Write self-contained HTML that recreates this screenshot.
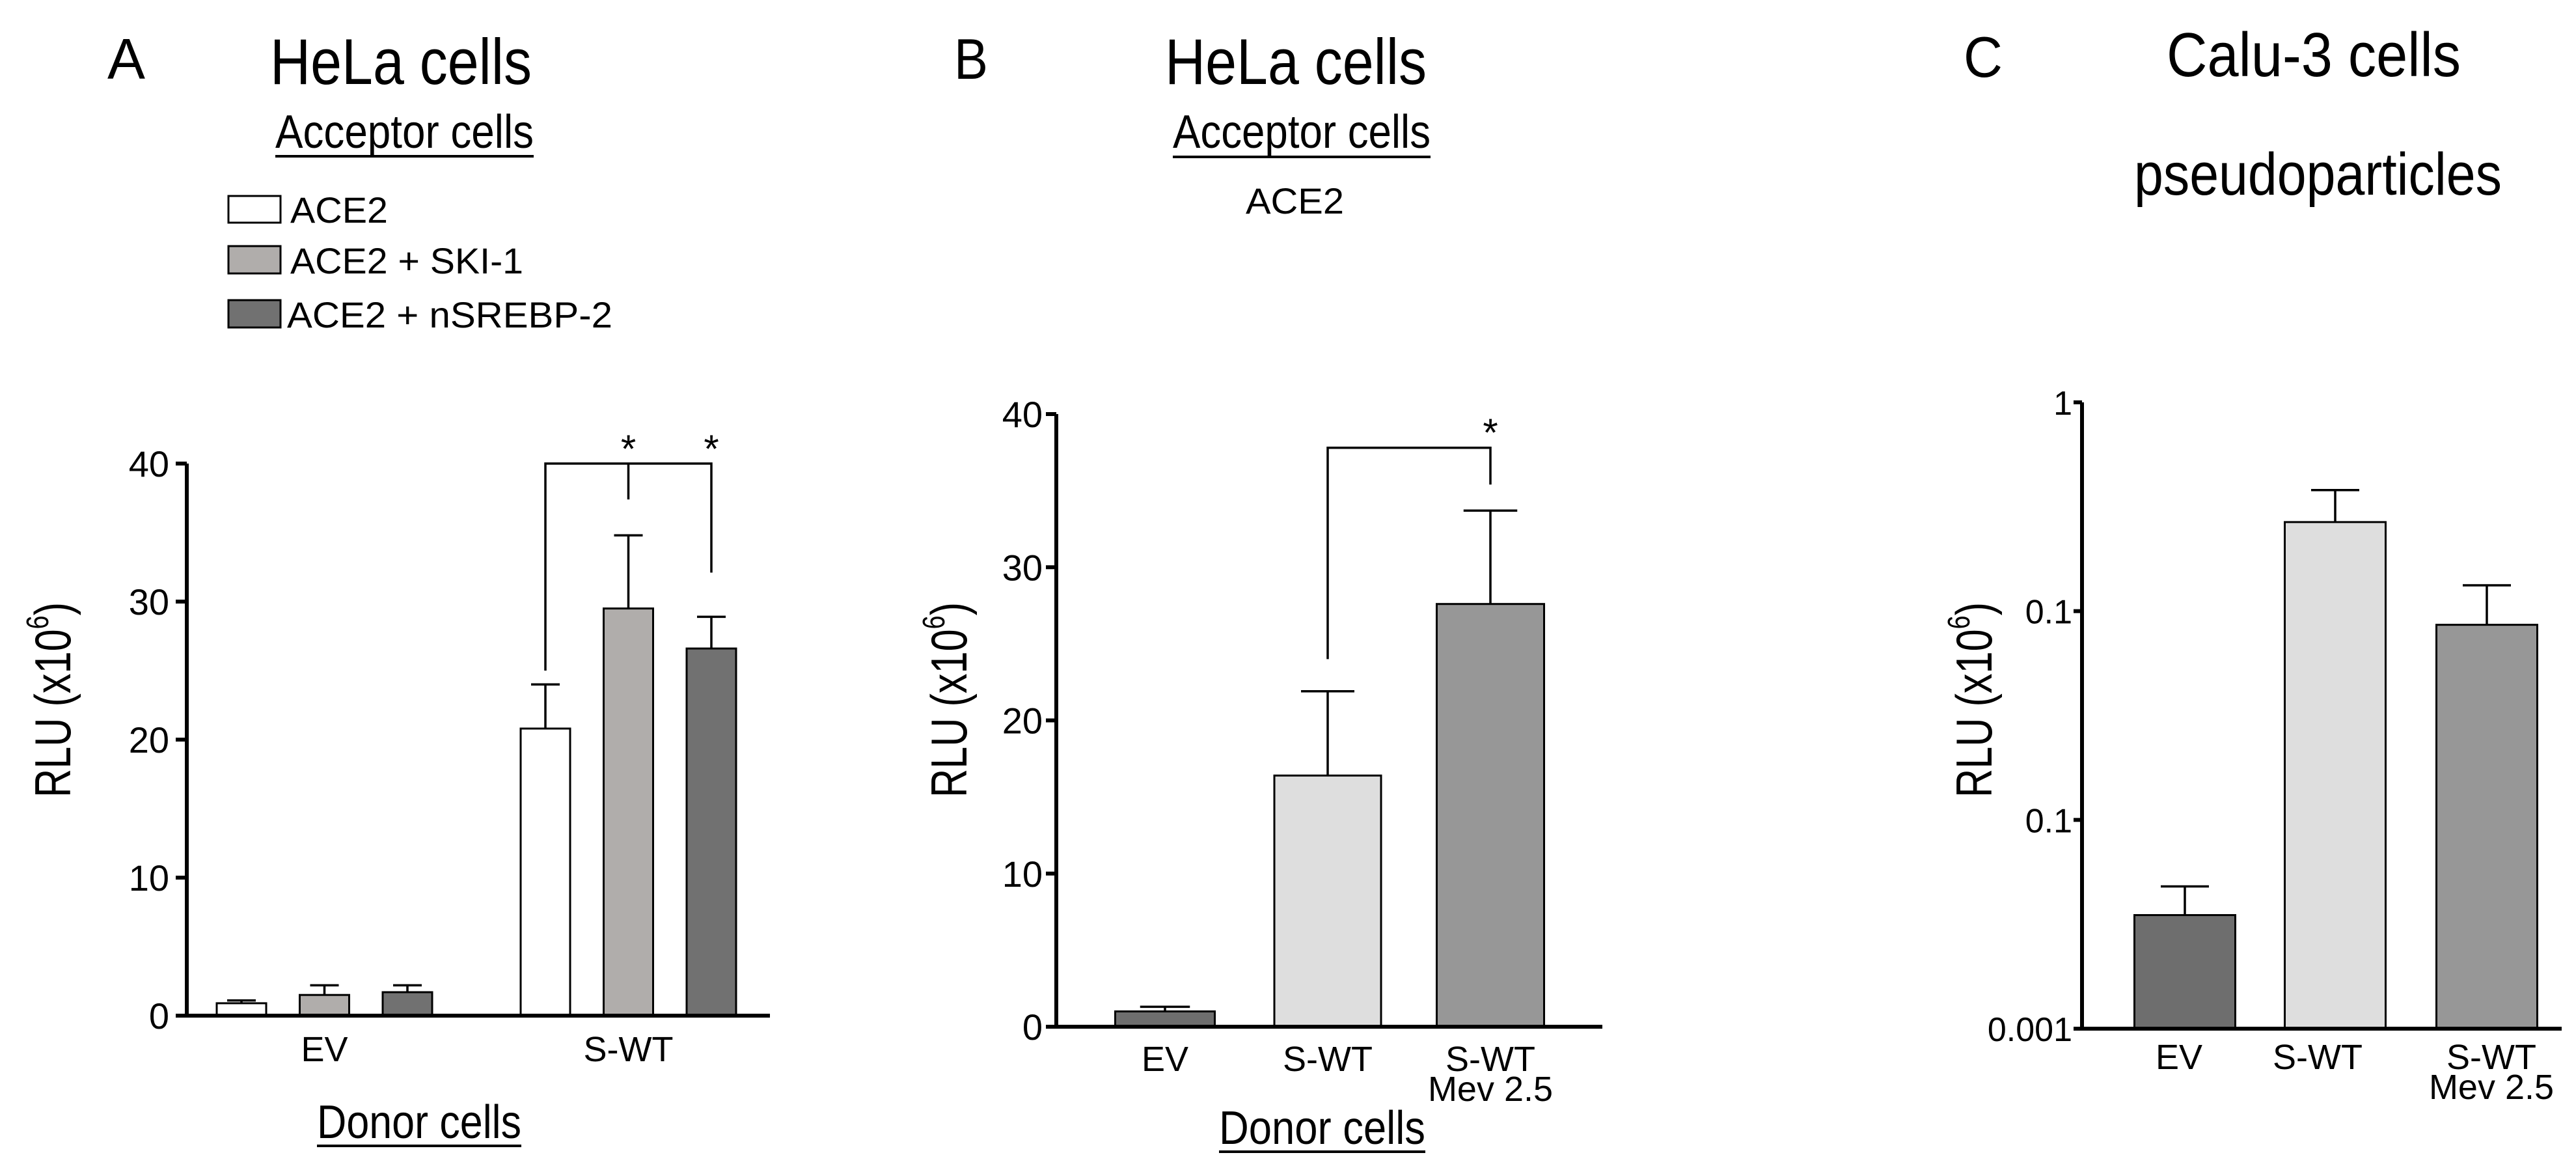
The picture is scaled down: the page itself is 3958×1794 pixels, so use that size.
<!DOCTYPE html>
<html><head><meta charset="utf-8"><style>
html,body{margin:0;padding:0;background:#fff}
svg{display:block}
text{font-family:"Liberation Sans",Arial,sans-serif;fill:#000}
</style></head><body>
<svg id="fig" xmlns="http://www.w3.org/2000/svg" width="3958" height="1794" viewBox="0 0 3958 1794">
<rect width="3958" height="1794" fill="#fff"/>
<!-- Panel A static text -->
<g>
<text x="165" y="121" font-size="88" textLength="58" lengthAdjust="spacingAndGlyphs">A</text>
<text x="415" y="129" font-size="99" textLength="402" lengthAdjust="spacingAndGlyphs">HeLa cells</text>
<text x="423" y="227" font-size="72" textLength="397" lengthAdjust="spacingAndGlyphs">Acceptor cells</text>
<rect x="423" y="238" width="397" height="4" fill="#000"/>
<rect x="351" y="301" width="80" height="41" fill="#fff" stroke="#000" stroke-width="3"/>
<rect x="351" y="378" width="80" height="42" fill="#b0adab" stroke="#000" stroke-width="3"/>
<rect x="351" y="461" width="80" height="42" fill="#717171" stroke="#000" stroke-width="3"/>
<text x="446" y="342" font-size="56" textLength="150" lengthAdjust="spacingAndGlyphs">ACE2</text>
<text x="446" y="420" font-size="56" textLength="358" lengthAdjust="spacingAndGlyphs">ACE2 + SKI-1</text>
<text x="441" y="503" font-size="56" textLength="500" lengthAdjust="spacingAndGlyphs">ACE2 + nSREBP-2</text>
<text x="487" y="1748" font-size="72" textLength="314" lengthAdjust="spacingAndGlyphs">Donor cells</text>
<rect x="487" y="1758" width="314" height="4" fill="#000"/>
</g>
<!-- Panel B static text -->
<g>
<text x="1466" y="121" font-size="88" textLength="52" lengthAdjust="spacingAndGlyphs">B</text>
<text x="1790" y="129" font-size="99" textLength="402" lengthAdjust="spacingAndGlyphs">HeLa cells</text>
<text x="1802" y="227" font-size="72" textLength="396" lengthAdjust="spacingAndGlyphs">Acceptor cells</text>
<rect x="1802" y="239" width="396" height="4" fill="#000"/>
<text x="1914" y="328" font-size="56" textLength="151" lengthAdjust="spacingAndGlyphs">ACE2</text>
<text x="1873" y="1757" font-size="72" textLength="317" lengthAdjust="spacingAndGlyphs">Donor cells</text>
<rect x="1873" y="1767" width="317" height="4" fill="#000"/>
</g>
<!-- Panel C static text -->
<g>
<text x="3017" y="118" font-size="88" textLength="60" lengthAdjust="spacingAndGlyphs">C</text>
<text x="3329" y="117" font-size="96" textLength="452" lengthAdjust="spacingAndGlyphs">Calu-3 cells</text>
<text x="3279" y="299" font-size="92" textLength="565" lengthAdjust="spacingAndGlyphs">pseudoparticles</text>
</g>
<g id="charts"></g>
</svg>
<script>
// ---------- Panel A data ----------
const aCategories = ["EV", "S-WT"];
const aSeriesNames = ["ACE2", "ACE2 + SKI-1", "ACE2 + nSREBP-2"];
const aAce2 = [0.9, 20.8];
const aAce2Err = [1.1, 24.0];
const aSki1 = [1.5, 29.5];
const aSki1Err = [2.2, 34.8];
const aNsrebp2 = [1.7, 26.6];
const aNsrebp2Err = [2.2, 28.9];
const aTicks = [0, 10, 20, 30, 40];
// ---------- Panel B data ----------
const bCategories = ["EV", "S-WT", "S-WT|Mev 2.5"];
const bValues = [1.0, 16.4, 27.6];
const bErr = [1.3, 21.9, 33.7];
const bTicks = [0, 10, 20, 30, 40];
// ---------- Panel C data ----------
const cCategories = ["EV", "S-WT", "S-WT|Mev 2.5"];
const cValues = [0.0035, 0.267, 0.086];
const cErr = [0.0048, 0.38, 0.133];
const cTickValues = [0.001, 0.01, 0.1, 1];
const cTickLabels = ["0.001", "0.1", "0.1", "1"];

const NS = "http://www.w3.org/2000/svg";
const root = document.getElementById("charts");
function mk(tag, attrs, parent) {
  const e = document.createElementNS(NS, tag);
  for (const k in attrs) e.setAttribute(k, attrs[k]);
  (parent || root).appendChild(e);
  return e;
}
function txt(str, attrs, parent) { const t = mk("text", attrs, parent); t.textContent = str; return t; }

function yTitle(cx, cy, parent) {
  const t = mk("text", {x: 0, y: 0, "font-size": 78, "text-anchor": "middle",
    transform: "translate(" + cx + "," + cy + ") rotate(-90)"}, parent);
  
  
  const s1 = mk("tspan", {}, t); s1.textContent = "RLU (x10";
  const s2 = mk("tspan", {"font-size": 48, dy: -34}, t); s2.textContent = "6";
  const s3 = mk("tspan", {dy: 34}, t); s3.textContent = ")";
  t.setAttribute("textLength", 300);
  t.setAttribute("lengthAdjust", "spacingAndGlyphs");
}

function bar(g, x0, w, yTop, yBase, fill, name) {
  const r = mk("rect", {x: x0, y: yTop, width: w, height: yBase - yTop, fill: fill, stroke: "#000", "stroke-width": 3}, g);
  
  
}
function errBar(g, cx, yTop, yEnd, capW, name) {
  const p = mk("path", {d: "M" + cx + " " + yTop + "V" + yEnd + "M" + (cx - capW / 2) + " " + yEnd + "H" + (cx + capW / 2),
    stroke: "#000", "stroke-width": 3.5, fill: "none"}, g);
  
  
}
function catLabel(g, str, cx, y, name) {
  const parts = str.split("|");
  parts.forEach((p, i) => {
    const t = txt(p, {x: cx, y: y + i * 46, "font-size": 54, "text-anchor": "middle"}, g);
    
    
  });
}

// ---------- Panel A ----------
(function () {
  const g = mk("g", {});
  
  
  const ax = 287, y0 = 1560, y40 = 712, xEnd = 1183;
  const yS = v => y0 - (v / 40) * (y0 - y40);
  const groupStart = [333, 800];
  const step = 127.5, bw = 76;
  const series = [[aAce2, aAce2Err, "#ffffff"], [aSki1, aSki1Err, "#b0adab"], [aNsrebp2, aNsrebp2Err, "#717171"]];
  aCategories.forEach((c, ci) => {
    series.forEach((s, si) => {
      const x0 = groupStart[ci] + si * step;
      const cx = x0 + bw / 2;
      errBar(g, cx, yS(s[0][ci]), yS(s[1][ci]), 44, "error-bar-" + c.toLowerCase() + "-" + si);
      bar(g, x0, bw, yS(s[0][ci]), y0, s[2], "bar-" + c.toLowerCase() + "-" + si);
    });
    const gc = groupStart[ci] + step + bw / 2;
    catLabel(g, c, gc, 1630, "x-tick-label");
  });
  const axis = mk("path", {d: "M" + ax + " " + y40 + "V" + y0 + "H" + xEnd, stroke: "#000", "stroke-width": 6, fill: "none"}, g);
  
  
  aTicks.forEach(t => {
    const y = yS(t);
    const tk = mk("line", {x1: 270, x2: ax, y1: y, y2: y, stroke: "#000", "stroke-width": 6}, g);
    
    
    const lb = txt(String(t), {x: 260, y: y + 20, "font-size": 56, "text-anchor": "end"}, g);
    
    
  });
  const c0 = groupStart[1] + bw / 2, c1 = c0 + step, c2 = c0 + 2 * step;
  const br = mk("path", {d: "M" + c0 + " " + yS(25) + "V" + yS(40) + "H" + c2 + "V" + yS(32.1) + "M" + c1 + " " + yS(40) + "V" + yS(37.4),
    stroke: "#000", "stroke-width": 3.5, fill: "none"}, g);
  
  
  [c1, c2].forEach(x => {
    const s = txt("*", {x: x, y: 710, "font-size": 60, "text-anchor": "middle"}, g);
    
    
  });
  yTitle(108, 1075, g);
})();

// ---------- Panel B ----------
(function () {
  const g = mk("g", {});
  
  
  const ax = 1623, y0 = 1577, y40 = 636, xEnd = 2462;
  const yS = v => y0 - (v / 40) * (y0 - y40);
  const centers = [1790, 2040, 2290];
  const widths = [153, 164, 165];
  const colors = ["#6e6e6e", "#dedede", "#979797"];
  bCategories.forEach((c, i) => {
    const x0 = centers[i] - widths[i] / 2;
    errBar(g, centers[i], yS(bValues[i]), yS(bErr[i]), widths[i] * 0.5, "error-bar-" + i);
    bar(g, x0, widths[i], yS(bValues[i]), y0, colors[i], "bar-" + i);
    catLabel(g, c, centers[i], 1645, "x-tick-label");
  });
  const axis = mk("path", {d: "M" + ax + " " + y40 + "V" + y0 + "H" + xEnd, stroke: "#000", "stroke-width": 6, fill: "none"}, g);
  
  
  bTicks.forEach(t => {
    const y = yS(t);
    const tk = mk("line", {x1: 1607, x2: ax, y1: y, y2: y, stroke: "#000", "stroke-width": 6}, g);
    
    
    const lb = txt(String(t), {x: 1602, y: y + 20, "font-size": 56, "text-anchor": "end"}, g);
    
    
  });
  const br = mk("path", {d: "M" + centers[1] + " " + yS(24) + "V" + yS(37.8) + "H" + centers[2] + "V" + yS(35.4),
    stroke: "#000", "stroke-width": 3.5, fill: "none"}, g);
  
  
  const s = txt("*", {x: centers[2], y: 685, "font-size": 60, "text-anchor": "middle"}, g);
  
  
  yTitle(1485, 1075, g);
})();

// ---------- Panel C (log scale) ----------
(function () {
  const g = mk("g", {});
  
  
  const ax = 3199, yTop = 618, yBot = 1580, xEnd = 3936;
  const yS = v => yTop + (-Math.log10(v)) * ((yBot - yTop) / 3);
  const centers = [3357, 3588, 3821];
  const bw = 155;
  const colors = ["#6e6e6e", "#dedede", "#979797"];
  cCategories.forEach((c, i) => {
    errBar(g, centers[i], yS(cValues[i]), yS(cErr[i]), 74, "error-bar-" + i);
    bar(g, centers[i] - bw / 2, bw, yS(cValues[i]), yBot, colors[i], "bar-" + i);
  });
  const lblX = [3348, 3561, 3828];
  cCategories.forEach((c, i) => catLabel(g, c, lblX[i], 1642, "x-tick-label"));
  const axis = mk("path", {d: "M" + ax + " " + yTop + "V" + yBot + "H" + xEnd, stroke: "#000", "stroke-width": 6, fill: "none"}, g);
  
  
  cTickValues.forEach((t, i) => {
    const y = yS(t);
    const tk = mk("line", {x1: 3186, x2: ax, y1: y, y2: y, stroke: "#000", "stroke-width": 6}, g);
    
    
    const lb = txt(cTickLabels[i], {x: 3184, y: y + 19, "font-size": 52, "text-anchor": "end"}, g);
    
    
  });
  yTitle(3060, 1075, g);
})();
</script>
</body></html>
